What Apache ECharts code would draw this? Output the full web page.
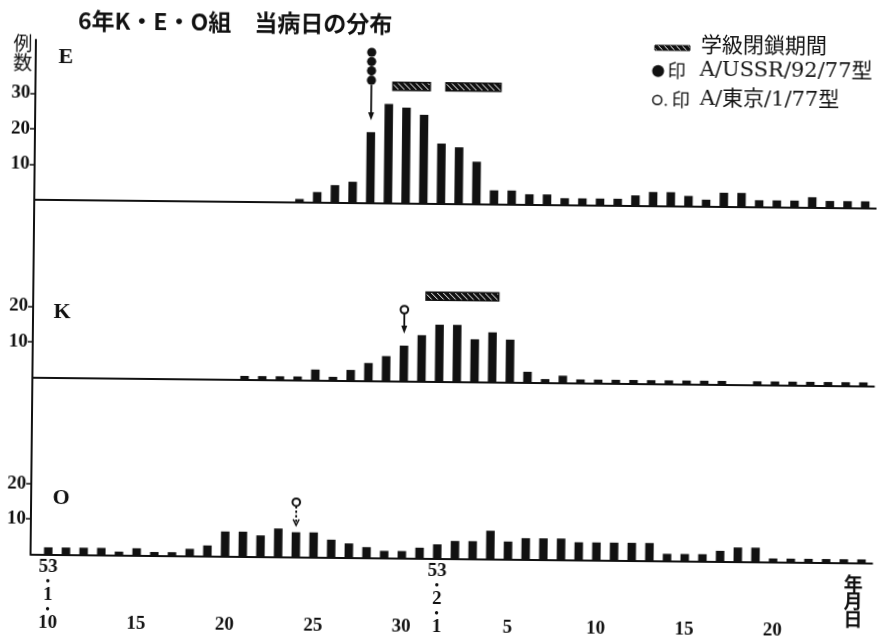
<!DOCTYPE html>
<html><head><meta charset="utf-8">
<script src="https://cdn.jsdelivr.net/npm/echarts@6/dist/echarts.min.js"></script>
<style>html,body{margin:0;padding:0;background:#fff;overflow:hidden}#c{width:877px;height:643px;transform:rotate(0.6deg);transform-origin:50% 50%;}</style>
</head><body><div id="c"></div>
<script>
// ---- data ----
const days = ['1/10','1/11','1/12','1/13','1/14','1/15','1/16','1/17','1/18','1/19','1/20','1/21','1/22','1/23','1/24','1/25','1/26','1/27','1/28','1/29','1/30','1/31',
  '2/1','2/2','2/3','2/4','2/5','2/6','2/7','2/8','2/9','2/10','2/11','2/12','2/13','2/14','2/15','2/16','2/17','2/18','2/19','2/20','2/21','2/22','2/23','2/24','2/25'];
const countE = [0,0,0,0,0,0,0,0,0,0,0,0,0,0, 1,3,5,6,20,28,27,25,
  17,16,12,4,4,3,3,2,2,2,2,3,4,4,3,2,4,4,2,2,2,3,2,2,2];
const countK = [0,0,0,0,0,0,0,0,0,0,0, 1,1,1,1,3,1,3,5,7,10,13,
  16,16,12,14,12,3,1,2,1,1,1,1,1,1,1,1,1,0,1,1,1,1,1,1,1];
const countO = [2,2,2,2,1,2,1,1,2,3,7,7,6,8,7,7,5,4,3,2,2,3,
  4,5,5,8,5,6,6,6,5,5,5,5,5,2,2,2,3,4,4,1,1,1,1,1,1];
const xTickDays = ['1/10','1/15','1/20','1/25','1/30','2/1','2/5','2/10','2/15','2/20'];
const xTickText = ['53\n{d|•}\n1\n{d|•}\n10','15','20','25','30','53\n{d|•}\n2\n{d|•}\n1','5','10','15','20'];
const yTicksE = [10,20,30];
const yTicksKO = [10,20];
// class closure periods (first day, last day)
const closureE = [['1/30','1/31'],['2/2','2/4']];
const closureK = [['2/1','2/4']];
// virus isolation markers
const markerPanel = ['E','K','O'];
const markerDay = ['1/28','1/30','1/24'];
const markerCount = [4,1,1];
const markerFilled = [1,0,0];
const panelNames = ['E','K','O'];

// ---- styles ----
const INK = '#111';
const serif = 'Liberation Serif';
const counts = {E:countE, K:countK, O:countO};
const panelStyle = {
  E:{gap:12, stem:40, dash:false, head:'fill', hatchLevel:33},
  K:{gap:12, stem:24, dash:false, head:'fill', hatchLevel:24},
  O:{gap:7, stem:23, dash:true, head:'open'}
};
const idx = d => days.indexOf(d);

const pat = (function(){
  const c=document.createElement('canvas'); c.width=6; c.height=6;
  const g=c.getContext('2d'); g.fillStyle=INK; g.fillRect(0,0,6,6);
  g.strokeStyle='#fff'; g.lineWidth=1; g.beginPath();
  g.moveTo(0,0); g.lineTo(6,6); g.moveTo(-3,3); g.lineTo(3,9); g.moveTo(3,-3); g.lineTo(9,3);
  g.stroke(); return c;
})();
const hatchFill = {image: pat, repeat: 'repeat'};

const grids = [
  {left:33, top:44, width:841.6, height:160},
  {left:33, top:204, width:841.6, height:177.5},
  {left:33, top:381.5, width:841.6, height:177}
];
const tickIdx = xTickDays.map(idx);

const xAxes = grids.map((g,i)=>({
  type:'value', gridIndex:i, min:-1, max:46.6,
  splitLine:{show:false}, axisTick:{show:false},
  axisLine:{show:true, onZero:false, lineStyle:{color:INK, width:2}},
  axisLabel: i<2 ? {show:false} : {
    show:true, customValues: tickIdx, margin:6,
    fontFamily:serif, fontSize:19, fontWeight:'bold', color:INK, lineHeight:14, verticalAlign:'top',
    rich:{d:{fontFamily:serif, fontSize:12, fontWeight:'bold', lineHeight:14, color:INK}},
    formatter: v => { const k = tickIdx.indexOf(Math.round(v)); if (k<0) return '';
      const t = xTickText[k]; return t.indexOf('\n')>=0 ? t : '\n\n\n\n'+t; }
  }
}));
const yAxes = grids.map((g,i)=>({
  type:'value', gridIndex:i, min:0, max: i===0?45:50,
  splitLine:{show:false},
  axisLine:{show:true, onZero:false, lineStyle:{color:INK, width:2}},
  axisTick:{show:true, customValues: i===0?yTicksE:yTicksKO, length:5, lineStyle:{color:INK, width:1.5}},
  axisLabel:{show:true, customValues: i===0?yTicksE:yTicksKO, margin:5, fontFamily:serif, fontSize:19, fontWeight:'bold', color:INK}
}));

const series = [];
panelNames.forEach((p,i)=>{
  series.push({type:'bar', xAxisIndex:i, yAxisIndex:i, barWidth:8.5, silent:true,
    itemStyle:{color:INK}, data: counts[p].map((v,k)=>[k,v])});
});

function closureRender(params, api){
  const a = api.coord([api.value(0)-0.78, api.value(2)]);
  const b = api.coord([api.value(1)+0.33, api.value(2)]);
  return {type:'rect', shape:{x:a[0], y:a[1]-4, width:b[0]-a[0], height:8},
    style:{fill:hatchFill, stroke:INK, lineWidth:1.5}};
}
[['E',closureE,0],['K',closureK,1]].forEach(([p,list,i])=>{
  series.push({type:'custom', xAxisIndex:i, yAxisIndex:i, silent:true, renderItem:closureRender,
    data: list.map(r=>[idx(r[0]), idx(r[1]), panelStyle[p].hatchLevel])});
});

function markerRender(st){
  return function(params, api){
    const p = api.coord([api.value(0), api.value(1)]);
    const n = api.value(2), filled = api.value(3)===1;
    const x = p[0], tip = p[1]-st.gap, c0 = tip-st.stem;
    const r = filled?4.6:3.8, sp = 9.3;
    const ch = [];
    const ls = {stroke:INK, lineWidth:1.8};
    if (st.dash) ls.lineDash = [2.5,2];
    ch.push({type:'line', shape:{x1:x, y1:c0+r, x2:x, y2:tip-(st.head==='fill'?6:1)}, style:ls});
    if (st.head==='fill') ch.push({type:'polygon', shape:{points:[[x-3,tip-8],[x+3,tip-8],[x,tip]]}, style:{fill:INK}});
    else ch.push({type:'polyline', shape:{points:[[x-3,tip-6],[x,tip],[x+3,tip-6]]}, style:{stroke:INK, lineWidth:1.5, fill:null}});
    for (let k=0;k<n;k++) ch.push({type:'circle', shape:{cx:x, cy:c0-k*sp, r:r},
      style: filled?{fill:INK}:{fill:'#fff', stroke:INK, lineWidth:2}});
    return {type:'group', children:ch};
  };
}
markerPanel.forEach((p,m)=>{
  const i = panelNames.indexOf(p), d = idx(markerDay[m]);
  series.push({type:'custom', xAxisIndex:i, yAxisIndex:i, silent:true, clip:false,
    renderItem: markerRender(panelStyle[p]),
    data:[[d, counts[p][d], markerCount[m], markerFilled[m]]]});
});

const txt = (x,y,t,o)=>Object.assign({type:'text', x:x, y:y, silent:true,
  style:Object.assign({text:t, fill:INK, verticalAlign:'middle', align:'left'}, o||{})});
const graphic = [
  txt(75,24,'6年K・E・O組　当病日の分布',{font:'bold 23px "Noto Sans CJK JP"'}),
  txt(20,57,'例\n数',{font:'19px "Noto Sans CJK JP"', lineHeight:19, align:'center'}),
  txt(63,61,'E',{font:'bold 22px "Liberation Serif"', align:'center'}),
  txt(62,316,'K',{font:'bold 22px "Liberation Serif"', align:'center'}),
  txt(63,502,'O',{font:'bold 22px "Liberation Serif"', align:'center'}),
  txt(856,597,'年\n月\n日',{font:'bold 19px "Noto Sans CJK JP"', lineHeight:17.5, align:'center'}),
  {type:'rect', silent:true, shape:{x:652, y:43, width:35, height:5}, style:{fill:hatchFill, stroke:INK, lineWidth:1}},
  txt(698,41,'学級閉鎖期間',{font:'21px "Noto Sans CJK JP"'}),
  {type:'circle', silent:true, shape:{cx:655.5, cy:68.7, r:6}, style:{fill:INK}},
  txt(665,68.5,'印',{font:'18px "Noto Sans CJK JP"'}),
  txt(697,67.5,'A/USSR/92/77型',{font:'21px "DejaVu Serif", "Noto Sans CJK JP"'}),
  {type:'circle', silent:true, shape:{cx:655, cy:97.7, r:4.5}, style:{fill:'#fff', stroke:INK, lineWidth:1.5}},
  {type:'circle', silent:true, shape:{cx:663.5, cy:102.5, r:1.1}, style:{fill:INK}},
  txt(669.5,97.5,'印',{font:'18px "Noto Sans CJK JP"'}),
  txt(697.5,96.5,'A/東京/1/77型',{font:'21px "DejaVu Serif", "Noto Sans CJK JP"'})
];

const chart = echarts.init(document.getElementById('c'), null, {renderer:'canvas'});
chart.setOption({
  backgroundColor:'#fff', animation:false,
  grid: grids, xAxis: xAxes, yAxis: yAxes, series: series, graphic: graphic
});
</script></body></html>
